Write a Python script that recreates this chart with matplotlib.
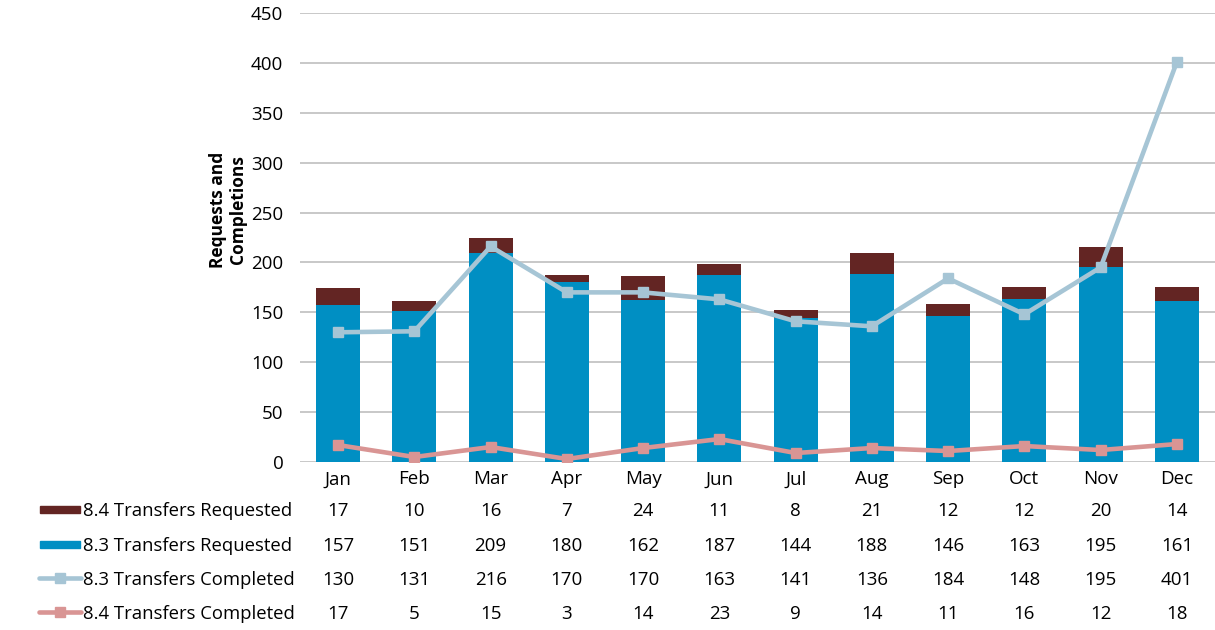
import matplotlib
matplotlib.use("Agg")
import matplotlib.pyplot as plt
from matplotlib.lines import Line2D
from matplotlib.patches import Rectangle
import matplotlib.transforms as mtrans

months = ["Jan", "Feb", "Mar", "Apr", "May", "Jun", "Jul", "Aug", "Sep", "Oct", "Nov", "Dec"]
req84 = [17, 10, 16, 7, 24, 11, 8, 21, 12, 12, 20, 14]
req83 = [157, 151, 209, 180, 162, 187, 144, 188, 146, 163, 195, 161]
comp83 = [130, 131, 216, 170, 170, 163, 141, 136, 184, 148, 195, 401]
comp84 = [17, 5, 15, 3, 14, 23, 9, 14, 11, 16, 12, 18]

series_names = ["8.4 Transfers Requested", "8.3 Transfers Requested",
                "8.3 Transfers Completed", "8.4 Transfers Completed"]

c84r = "#632523"
c83r = "#008FC3"
c83c = "#A6C5D5"
c84c = "#D99594"

plt.rcParams['font.family'] = ['Open Sans', 'DejaVu Sans']

fig = plt.figure(figsize=(12.15, 6.3), dpi=100)
W, H = 1215, 630
ax = fig.add_axes([300 / W, 1 - 462 / H, 915 / W, 449 / H])

x = list(range(len(months)))
ax.bar(x, req83, width=0.58, color=c83r, zorder=2)
ax.bar(x, req84, width=0.58, bottom=req83, color=c84r, zorder=2)
ax.plot(x, comp83, color=c83c, lw=3.3, marker='s', ms=7, zorder=3)
ax.plot(x, comp84, color=c84c, lw=3.3, marker='s', ms=7, zorder=3)

ax.set_xlim(-0.5, len(months) - 0.5)
ax.set_ylim(0, 450)
ax.set_yticks(range(0, 451, 50))
ax.yaxis.grid(True, color="#BFBFBF", lw=1.2, zorder=0)
ax.set_axisbelow(True)
for s in ax.spines.values():
    s.set_visible(False)
ax.tick_params(axis='y', length=0, pad=12, labelsize=13.5)
ax.tick_params(axis='x', length=0, pad=6, labelsize=13.5)
ax.set_xticks(x)
ax.set_xticklabels(months)

fig.text(228 / W, 1 - 210 / H, "Requests and\nCompletions", rotation=90,
         ha='center', va='center', fontsize=12.5, fontweight='bold', linespacing=1.15)

# data table
rows = [req84, req83, comp83, comp84]
row_y = [511, 546, 580, 614]
trans = mtrans.blended_transform_factory(ax.transData, fig.transFigure)
for vals, yp in zip(rows, row_y):
    for xi, v in zip(x, vals):
        fig.text(xi, 1 - yp / H, str(v), transform=trans, ha='center', va='center', fontsize=13.5)

for name, yp, i in zip(series_names, row_y, range(4)):
    fig.text(83 / W, 1 - yp / H, name, ha='left', va='center', fontsize=13.3)
    yy = 1 - yp / H
    if i == 0:
        fig.patches.append(Rectangle((40 / W, yy - 2 / H), 40 / W, 7 / H, color=c84r,
                                     transform=fig.transFigure))
    elif i == 1:
        fig.patches.append(Rectangle((40 / W, yy - 2 / H), 40 / W, 7 / H, color=c83r,
                                     transform=fig.transFigure))
    else:
        col = c83c if i == 2 else c84c
        fig.lines.append(Line2D([39 / W, 81 / W], [yy + 2 / H, yy + 2 / H], color=col, lw=3.3,
                                solid_capstyle='round', transform=fig.transFigure))
        fig.lines.append(Line2D([60 / W], [yy + 2 / H], color=col, marker='s', ms=7,
                                transform=fig.transFigure))

fig.savefig("out.png", dpi=100)
